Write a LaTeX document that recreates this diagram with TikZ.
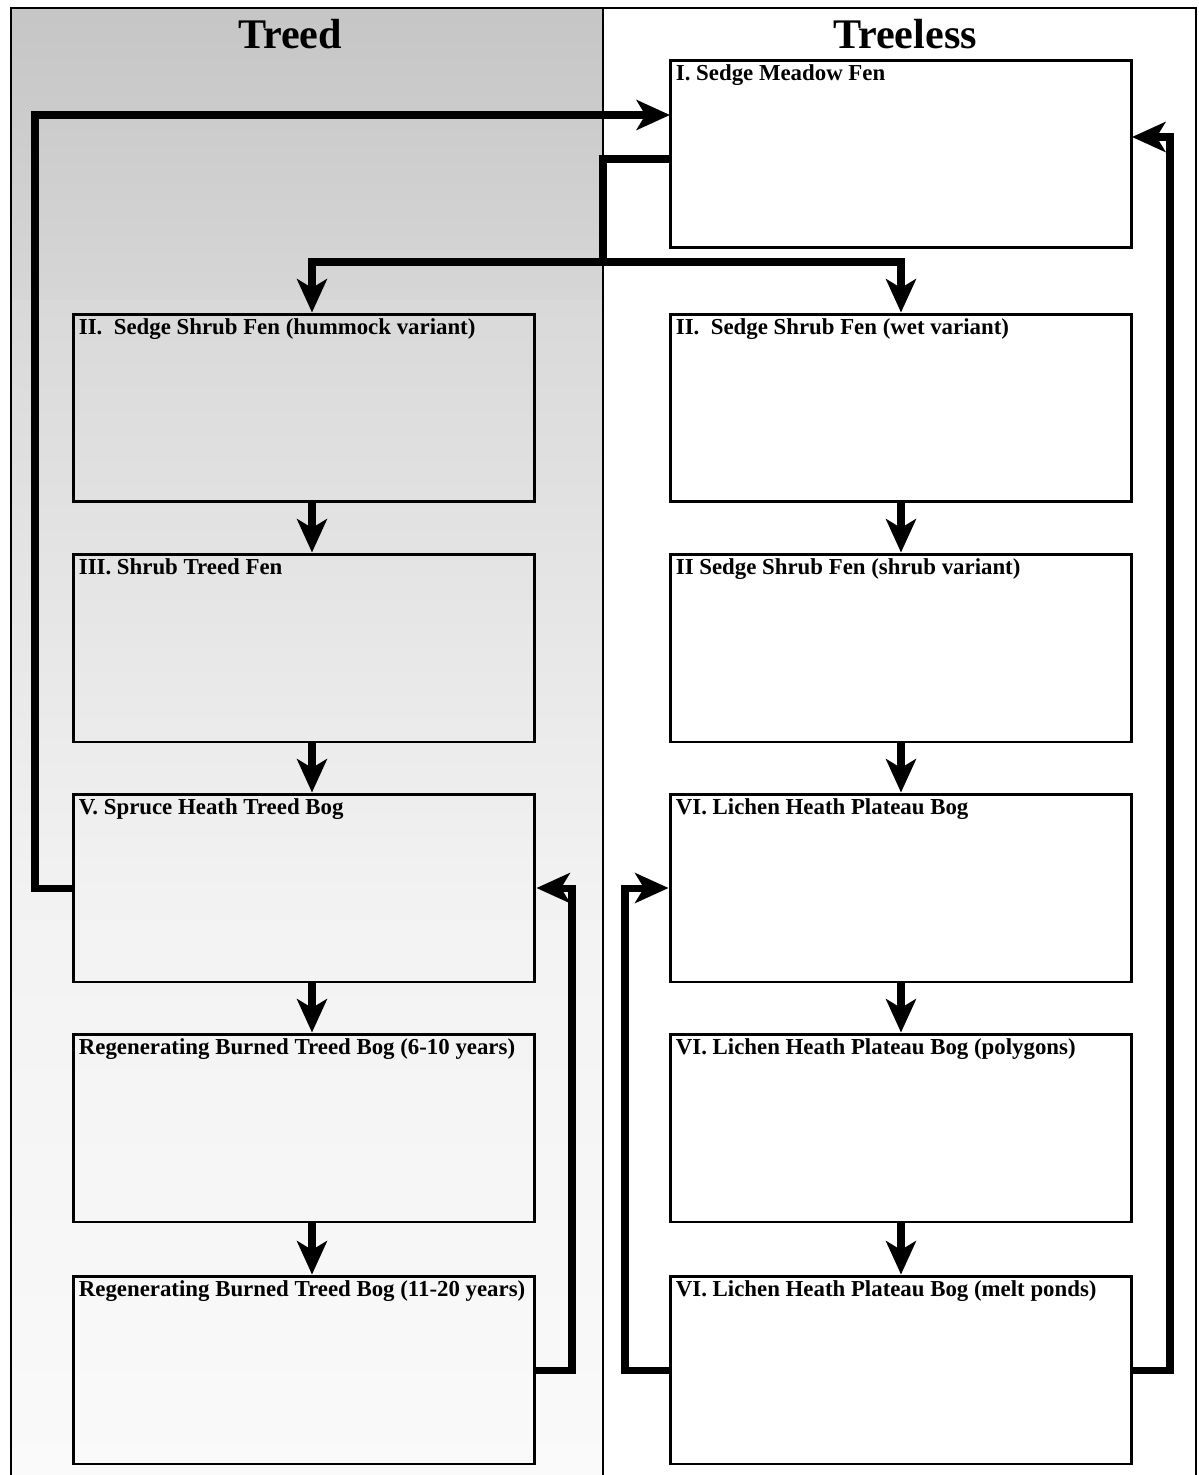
\documentclass[tikz,border=0pt]{standalone}
\usepackage{fontspec}
\setmainfont{Liberation Serif}
\usetikzlibrary{arrows.meta}

\tikzset{
  stage/.style={draw, line width=1.7pt, minimum width=9.24cm, minimum height=3.76cm, inner sep=0pt},
  stagename/.style={anchor=north west, inner sep=0pt, font=\fontsize{13}{15}\selectfont\bfseries},
  paneltitle/.style={font=\fontsize{24}{28}\selectfont\bfseries},
  link/.style={line width=4pt},
  flow/.style={line width=4pt, -{Stealth[length=19pt,width=17pt,inset=5pt]}},
}

\begin{document}
\begin{tikzpicture}[x=0.02cm, y=-0.02cm]
    \useasboundingbox (0,0) rectangle (1199,1475);

    % Treed panel background (stippled, fading downwards)
    \shade[top color=gray!45, bottom color=gray!32] (11,9) rectangle (603,300);
    \shade[top color=gray!30, bottom color=gray!10] (11,300) rectangle (603,900);
    \shade[top color=gray!10, bottom color=gray!4] (11,900) rectangle (603,1475);

    % Frame and divider
    \draw[line width=1.3pt] (11,1475) |- (1196,8) -- (1196,1475);
    \draw[line width=1.1pt] (603,8) -- (603,1475);

    % Panel titles
    \node[paneltitle] (treedtitle) at (290,34) {Treed};
    \node[paneltitle] (treelesstitle) at (905,34) {Treeless};

    % Treed column
    \node[stage] (hummock) at (304,408) {};
    \node[stagename] (hummockname) at ([shift={(7,6)}]hummock.north west) {II.\ \ Sedge Shrub Fen (hummock variant)};

    \node[stage] (shrubtreed) at (304,648) {};
    \node[stagename] (shrubtreedname) at ([shift={(7,6)}]shrubtreed.north west) {III. Shrub Treed Fen};

    \node[stage] (spruce) at (304,888) {};
    \node[stagename] (sprucename) at ([shift={(7,6)}]spruce.north west) {V. Spruce Heath Treed Bog};

    \node[stage] (burnyoung) at (304,1128) {};
    \node[stagename] (burnyoungname) at ([shift={(7,6)}]burnyoung.north west) {Regenerating Burned Treed Bog (6-10 years)};

    \node[stage] (burnold) at (304,1370) {};
    \node[stagename] (burnoldname) at ([shift={(7,6)}]burnold.north west) {Regenerating Burned Treed Bog (11-20 years)};

    % Treeless column
    \node[stage] (meadow) at (901,154) {};
    \node[stagename] (meadowname) at ([shift={(7,6)}]meadow.north west) {I. Sedge Meadow Fen};

    \node[stage] (wetfen) at (901,408) {};
    \node[stagename] (wetfenname) at ([shift={(7,6)}]wetfen.north west) {II.\ \ Sedge Shrub Fen (wet variant)};

    \node[stage] (shrubfen) at (901,648) {};
    \node[stagename] (shrubfenname) at ([shift={(7,6)}]shrubfen.north west) {II Sedge Shrub Fen (shrub variant)};

    \node[stage] (lichen) at (901,888) {};
    \node[stagename] (lichenname) at ([shift={(7,6)}]lichen.north west) {VI. Lichen Heath Plateau Bog};

    \node[stage] (polygons) at (901,1128) {};
    \node[stagename] (polygonsname) at ([shift={(7,6)}]polygons.north west) {VI. Lichen Heath Plateau Bog (polygons)};

    \node[stage] (meltponds) at (901,1370) {};
    \node[stagename] (meltpondsname) at ([shift={(7,6)}]meltponds.north west) {VI. Lichen Heath Plateau Bog (melt ponds)};

    % Rail points
    \coordinate (railA) at (35,115);
    \coordinate (meadowinL) at (670,115);
    \coordinate (meadowout) at (670,159);
    \coordinate (split) at (603,262);
    \coordinate (railB) at (572,888);
    \coordinate (railC) at (625,888);
    \coordinate (railD) at (1170,137);
    \coordinate (meadowinR) at (1132,137);

    % Spruce bog back to meadow fen
    \draw[flow] (spruce.west) -| (railA) -- (meadowinL);

    % Meadow fen splits into both shrub fens
    \draw[link] (meadowout) -| (split);
    \draw[flow] (split) -| ([xshift=0.16cm]hummock.north);
    \draw[flow] (split) -| (wetfen.north);

    % Treed succession
    \draw[flow] ([xshift=0.16cm]hummock.south) -- ([xshift=0.16cm]shrubtreed.north);
    \draw[flow] ([xshift=0.16cm]shrubtreed.south) -- ([xshift=0.16cm]spruce.north);
    \draw[flow] ([xshift=0.16cm]spruce.south) -- ([xshift=0.16cm]burnyoung.north);
    \draw[flow] ([xshift=0.16cm]burnyoung.south) -- ([xshift=0.16cm]burnold.north);
    \draw[flow] (burnold.east) -| (railB) -- (spruce.east);

    % Treeless succession
    \draw[flow] (wetfen.south) -- (shrubfen.north);
    \draw[flow] (shrubfen.south) -- (lichen.north);
    \draw[flow] (lichen.south) -- (polygons.north);
    \draw[flow] (polygons.south) -- (meltponds.north);
    \draw[flow] (meltponds.west) -| (railC) -- (lichen.west);
    \draw[flow] (meltponds.east) -| (railD) -- (meadowinR);

\end{tikzpicture}
\end{document}
